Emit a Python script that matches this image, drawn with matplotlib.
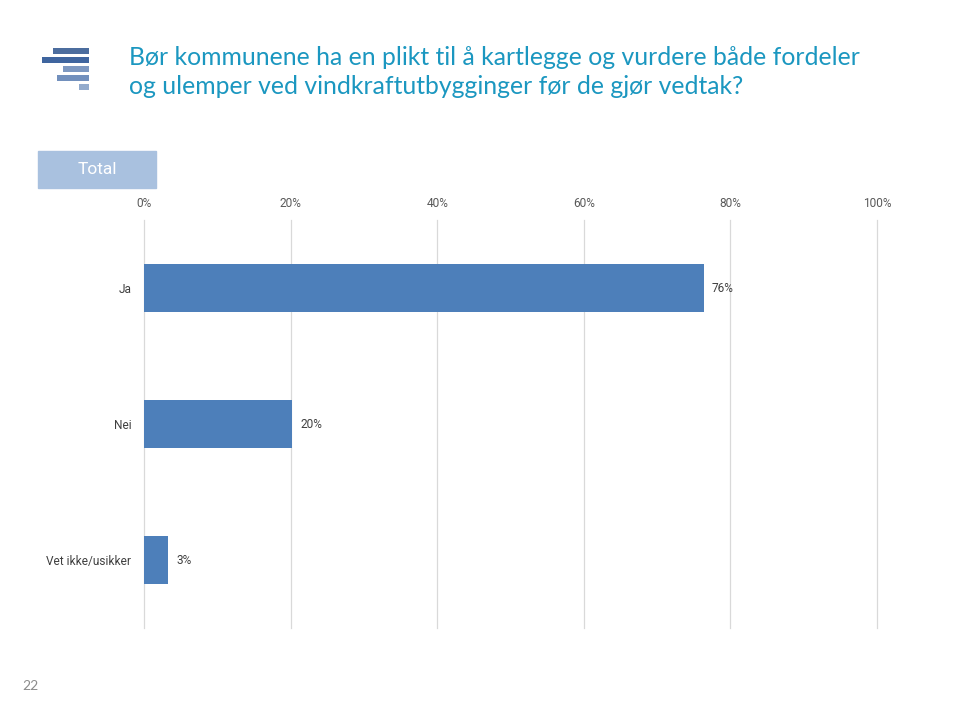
from matplotlib import pyplot as plt
from matplotlib.patches import Rectangle

categories = ['Ja', 'Nei', 'Vet ikke/usikker']
values = [76.4, 20.2, 3.3]
value_labels = ['76%', '20%', '3%']
ticks = [0, 20, 40, 60, 80, 100]
tick_labels = ['0%', '20%', '40%', '60%', '80%', '100%']

title = ('Bør kommunene ha en plikt til å kartlegge og vurdere både fordeler\n'
         'og ulemper ved vindkraftutbygginger før de gjør vedtak?')

# logo bars (decoration), widths and colours
logo_widths = [35, 46, 25, 31, 10]
logo_colors = ['#4c6d9e', '#3f659f', '#7d98c1', '#7290bd', '#93abcd']

plt.rcParams['font.family'] = ['Roboto', 'DejaVu Sans']

fig = plt.figure(figsize=(9.6, 7.2), dpi=100)

# logo
lax = fig.add_axes([42/960, 1 - 91/720, 47/960, 44/720])
lax.barh(range(len(logo_widths)), logo_widths, left=[46 - w for w in logo_widths],
         height=0.68, color=logo_colors)
lax.set_xlim(0, 46)
lax.set_ylim(4.5, -0.5)
lax.axis('off')

# title
fig.text(129/960, 1 - 72/720, title, color='#1b97c0', fontsize=17.8,
         family=['Lato', 'DejaVu Sans'], va='center', linespacing=1.3)

# "Total" box
fig.patches.append(Rectangle((38/960, 1 - 188/720), 118/960, 37/720,
                             transform=fig.transFigure, color='#a9c1df'))
fig.text(97/960, 1 - 170/720, 'Total', color='white', fontsize=12.5,
         ha='center', va='center')

# main chart
ax = fig.add_axes([144/960, 1 - 628/720, 733/960, 408/720])
y = range(len(categories))
ax.barh(y, values, height=0.353, color='#4d7fba', zorder=3)
for yi, v, lab in zip(y, values, value_labels):
    ax.text(v + 1.1, yi, lab, va='center', ha='left', fontsize=8.6, color='#404040')

ax.set_xlim(0, 100)
ax.set_ylim(2.5, -0.5)
ax.set_xticks(ticks)
ax.set_xticklabels(tick_labels)
ax.set_yticks(list(y))
ax.set_yticklabels(categories)
ax.xaxis.tick_top()
ax.tick_params(axis='x', length=0, pad=7, labelsize=8.6, labelcolor='#595959')
ax.tick_params(axis='y', length=0, pad=9, labelsize=8.6, labelcolor='#404040')
for t in ticks:
    ax.axvline(t, color='#d9d9d9', linewidth=0.9, zorder=0, clip_on=False)
for s in ax.spines.values():
    s.set_visible(False)

fig.text(30/960, 1 - 686/720, '22', color='#8c8c8c', fontsize=10,
         ha='center', va='center', family=['Lato', 'DejaVu Sans'])

plt.savefig('out.png', dpi=100)
